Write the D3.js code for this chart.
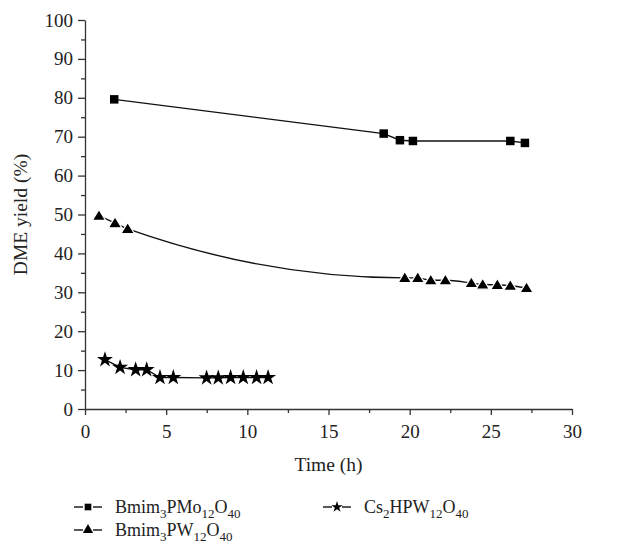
<!DOCTYPE html>
<html>
<head>
<meta charset="utf-8">
<script src="https://cdn.jsdelivr.net/npm/d3@7"></script>
<style>
  body { margin: 0; background: #fff; }
  text { font-family: "Liberation Serif", "DejaVu Serif", serif; fill: #222; }
  .axis path, .axis line { stroke: #333; stroke-width: 1.3; }
</style>
</head>
<body>
<svg width="621" height="545"></svg>
<script>
// Bmim3PMo12O40
var moTime = [1.8, 18.4, 19.4, 20.2, 26.2, 27.1];
var moYield = [79.6, 70.8, 69.1, 68.9, 68.9, 68.4];
// Bmim3PW12O40
var wTime = [0.86, 1.85, 2.63, 19.7, 20.5, 21.3, 22.2, 23.8, 24.5, 25.4, 26.2, 27.2];
var wYield = [49.7, 47.8, 46.3, 33.7, 33.7, 33.1, 33.1, 32.4, 32.0, 31.9, 31.7, 31.1];
// Cs2HPW12O40
var csTime = [1.23, 2.16, 3.12, 3.80, 4.62, 5.44, 7.49, 8.21, 8.97, 9.75, 10.57, 11.28];
var csYield = [12.7, 10.7, 10.1, 10.1, 8.1, 8.1, 8.0, 8.0, 8.1, 8.1, 8.1, 8.1];

var xTicks = [0, 5, 10, 15, 20, 25, 30];
var yTicks = [0, 10, 20, 30, 40, 50, 60, 70, 80, 90, 100];

var svg = d3.select("svg"),
    margin = {top: 20, right: 49, bottom: 136, left: 85},
    width = 621 - margin.left - margin.right,
    height = 545 - margin.top - margin.bottom;

var x = d3.scaleLinear().domain([0, 30]).range([0, width]),
    y = d3.scaleLinear().domain([0, 100]).range([height, 0]);

var g = svg.append("g")
    .attr("transform", "translate(" + margin.left + "," + margin.top + ")");

// minor ticks
g.append("g")
    .attr("class", "axis")
    .attr("transform", "translate(0," + height + ")")
    .call(d3.axisBottom(x).tickValues(d3.range(2.5, 30, 5)).tickSize(4).tickFormat(""))
    .select(".domain").remove();
g.append("g")
    .attr("class", "axis")
    .call(d3.axisLeft(y).tickValues(d3.range(5, 100, 10)).tickSize(4).tickFormat(""))
    .select(".domain").remove();

g.append("g")
    .attr("class", "axis")
    .attr("transform", "translate(0," + height + ")")
    .call(d3.axisBottom(x).tickValues(xTicks).tickSize(6).tickSizeOuter(0).tickPadding(10));
g.append("g")
    .attr("class", "axis")
    .call(d3.axisLeft(y).tickValues(yTicks).tickSize(7).tickSizeOuter(0).tickPadding(5));

g.selectAll(".axis text")
    .style("font-size", "19px")
    .style("font-family", "Liberation Serif, serif")
    .attr("fill", "#222");

g.append("text")
    .attr("x", width / 2)
    .attr("y", height + 62)
    .attr("text-anchor", "middle")
    .style("font-size", "19.5px")
    .text("Time (h)");

g.append("text")
    .attr("transform", "rotate(-90)")
    .attr("x", -height / 2)
    .attr("y", -58)
    .attr("text-anchor", "middle")
    .style("font-size", "19.5px")
    .text("DME yield (%)");

var toPts = function(ts, vs){
    return ts.map(function(t, i){ return {t: t, v: vs[i]}; });
};

var lineLin = d3.line()
    .x(function(d) { return x(d.t); })
    .y(function(d) { return y(d.v); });
var lineCurve = d3.line()
    .curve(d3.curveMonotoneX)
    .x(function(d) { return x(d.t); })
    .y(function(d) { return y(d.v); });

var moData = toPts(moTime, moYield),
    wData = toPts(wTime, wYield),
    csData = toPts(csTime, csYield);

g.append("path").datum(moData).attr("d", lineLin)
    .attr("fill", "none").attr("stroke", "#111").attr("stroke-width", 1.4);
g.append("path").datum(wData).attr("d", lineCurve)
    .attr("fill", "none").attr("stroke", "#111").attr("stroke-width", 1.4);
g.append("path").datum(csData).attr("d", lineLin)
    .attr("fill", "none").attr("stroke", "#111").attr("stroke-width", 1.4);

var sq = d3.symbol().type(d3.symbolSquare).size(72);
var tri = d3.symbol().type(d3.symbolTriangle).size(70);
var star = d3.symbol().type(d3.symbolStar).size(80);

g.selectAll(".mo").data(moData).enter().append("path")
    .attr("class", "mo")
    .attr("d", sq)
    .attr("transform", function(d){ return "translate(" + x(d.t) + "," + y(d.v) + ")"; })
    .attr("fill", "#000");
g.selectAll(".w").data(wData).enter().append("path")
    .attr("class", "w")
    .attr("d", tri)
    .attr("transform", function(d){ return "translate(" + x(d.t) + "," + (y(d.v) + 1) + ") scale(1.05,1)"; })
    .attr("fill", "#000").attr("stroke", "#fff").attr("stroke-width", 1.2);
g.selectAll(".cs").data(csData).enter().append("path")
    .attr("class", "cs")
    .attr("d", star)
    .attr("transform", function(d){ return "translate(" + x(d.t) + "," + y(d.v) + ")"; })
    .attr("fill", "#000");

// legend
var legend = svg.append("g");
var items = [
    {sym: d3.symbol().type(d3.symbolSquare).size(44), lx: 74, ly: 507, parts: [["Bmim", 0], ["3", 1], ["PMo", 0], ["12", 1], ["O", 0], ["40", 1]]},
    {sym: d3.symbol().type(d3.symbolTriangle).size(46), lx: 74, ly: 530, parts: [["Bmim", 0], ["3", 1], ["PW", 0], ["12", 1], ["O", 0], ["40", 1]]},
    {sym: d3.symbol().type(d3.symbolStar).size(40), lx: 323, ly: 507, parts: [["Cs", 0], ["2", 1], ["HPW", 0], ["12", 1], ["O", 0], ["40", 1]]}
];
items.forEach(function(it){
    legend.append("line")
        .attr("x1", it.lx).attr("x2", it.lx + 9)
        .attr("y1", it.ly).attr("y2", it.ly)
        .attr("stroke", "#111").attr("stroke-width", 1.4);
    legend.append("line")
        .attr("x1", it.lx + 19).attr("x2", it.lx + 28)
        .attr("y1", it.ly).attr("y2", it.ly)
        .attr("stroke", "#111").attr("stroke-width", 1.4);
    legend.append("path")
        .attr("d", it.sym)
        .attr("transform", "translate(" + (it.lx + 14) + "," + it.ly + ")")
        .attr("fill", "#000");
    var t = legend.append("text")
        .attr("x", it.lx + 41)
        .attr("y", it.ly + 6)
        .style("font-size", "18px");
    var prevSub = 0;
    it.parts.forEach(function(p){
        var ts = t.append("tspan").text(p[0]);
        if (p[1]) {
            ts.style("font-size", "13px").attr("dy", 5);
        } else if (prevSub) {
            ts.attr("dy", -5);
        }
        prevSub = p[1];
    });
});
</script>
</body>
</html>
